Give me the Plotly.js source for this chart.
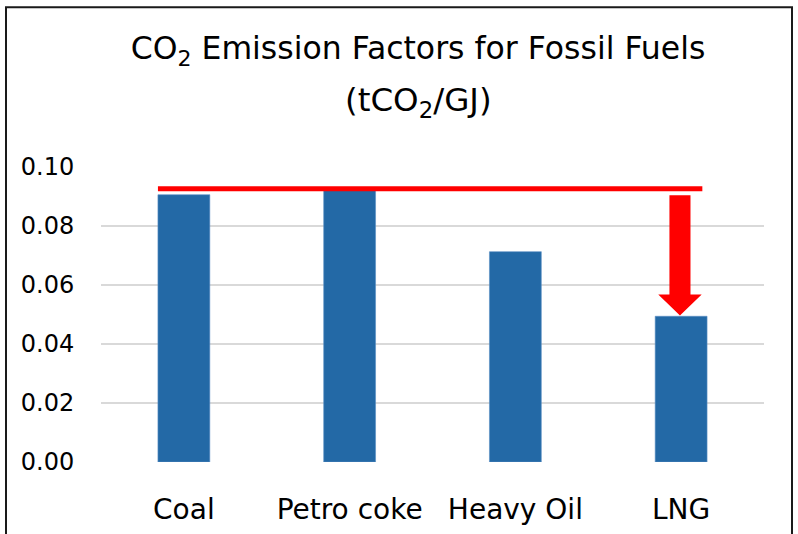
<!DOCTYPE html>
<html>
<head>
<meta charset="utf-8">
<script src="https://cdn.plot.ly/plotly-3.0.1.min.js"></script>
<style>html,body{margin:0;padding:0;background:#fff;}#chart{width:798px;height:534px;}</style>
</head>
<body>
<div id="chart"></div>
<script>
// ---- data ----
const categories = ["Coal", "Petro coke", "Heavy Oil", "LNG"];
const emissionFactors = [0.0906, 0.0926, 0.0713, 0.0494];
const yTickVals = [0.00, 0.02, 0.04, 0.06, 0.08, 0.10];
const yTickText = ["0.00", "0.02", "0.04", "0.06", "0.08", "0.10"];
const titleLine1 = "CO<sub>2</sub> Emission Factors for Fossil Fuels";
const titleLine2 = "(tCO<sub>2</sub>/GJ)";

// ---- styles ----
const FONT = "DejaVu Sans";
const barColor = "#2369A6";
const barWidth = 0.313;
const red = "#FF0000";

const idx = categories.map((_, i) => i);
const refLevel = Math.max(...emissionFactors);
const last = categories.length - 1;
const target = emissionFactors[last];

// arrow geometry (derived from the reference level and LNG value)
const ax = last - 0.007;
const shaftHalf = 0.0635, headHalf = 0.131;
const arrowTop = refLevel - 0.0022;
const tipY = target + 0.0003;
const headBase = tipY + 0.0071;
const arrowX = [ax - shaftHalf, ax + shaftHalf, ax + shaftHalf, ax + headHalf, ax, ax - headHalf, ax - shaftHalf, ax - shaftHalf];
const arrowY = [arrowTop, arrowTop, headBase, headBase, tipY, headBase, headBase, arrowTop];

const traces = [
  {
    type: "bar", x: idx, y: emissionFactors, width: barWidth,
    marker: {color: barColor, line: {color: "#5b8fc4", width: 0.6}},
    hoverinfo: "x+y", showlegend: false
  },
  {
    type: "scatter", mode: "lines", x: arrowX, y: arrowY, fill: "toself",
    fillcolor: red, line: {width: 0, color: red}, hoverinfo: "skip", showlegend: false
  }
];

const L = 101, R = 34, T = 166.7, B = 72.3, W = 798, H = 534;
const pw = W - L - R, ph = H - T - B;

const layout = {
  width: W, height: H,
  margin: {l: L, r: R, t: T, b: B, pad: 0},
  paper_bgcolor: "#ffffff", plot_bgcolor: "#ffffff",
  font: {family: FONT, color: "#000000"},
  title: {
    text: titleLine1, font: {family: FONT, size: 31.5, color: "#000"},
    xref: "container", x: 418 / W, xanchor: "center",
    yref: "container", y: 1 - 48 / H, yanchor: "middle"
  },
  xaxis: {
    range: [-0.5, categories.length - 0.5], tickmode: "array", tickvals: idx, ticktext: categories,
    showgrid: false, zeroline: false, showline: false,
    ticks: "outside", ticklen: 22, tickcolor: "rgba(0,0,0,0)",
    tickfont: {family: FONT, size: 28, color: "#000"}, fixedrange: true
  },
  yaxis: {
    range: [0, 0.1], tickmode: "array", tickvals: yTickVals, ticktext: yTickText,
    showgrid: true, gridcolor: "#d9d9d9", gridwidth: 1.5,
    zeroline: false, showline: false,
    ticks: "outside", ticklen: 21, tickcolor: "rgba(0,0,0,0)",
    tickfont: {family: FONT, size: 24, color: "#000"}, fixedrange: true
  },
  annotations: [{
    text: titleLine2, showarrow: false,
    xref: "paper", yref: "paper",
    x: (418 - L) / pw, y: (H - B - 102) / ph,
    xanchor: "center", yanchor: "middle",
    font: {family: FONT, size: 32.5, color: "#000"}
  }],
  shapes: [
    {
      type: "line", xref: "x", yref: "y",
      x0: -barWidth / 2, x1: last + 0.128, y0: refLevel, y1: refLevel,
      line: {color: red, width: 5}
    },
    {
      type: "rect", xref: "paper", yref: "paper", layer: "above",
      x0: (6 - L) / pw, x1: (792 - L) / pw,
      y0: (H - B - 560) / ph, y1: (H - B - 7) / ph,
      line: {color: "#1a1a1a", width: 2}, fillcolor: "rgba(0,0,0,0)"
    }
  ],
  showlegend: false,
  bargap: 0
};

Plotly.newPlot("chart", traces, layout, {displayModeBar: false, staticPlot: true});
</script>
</body>
</html>
